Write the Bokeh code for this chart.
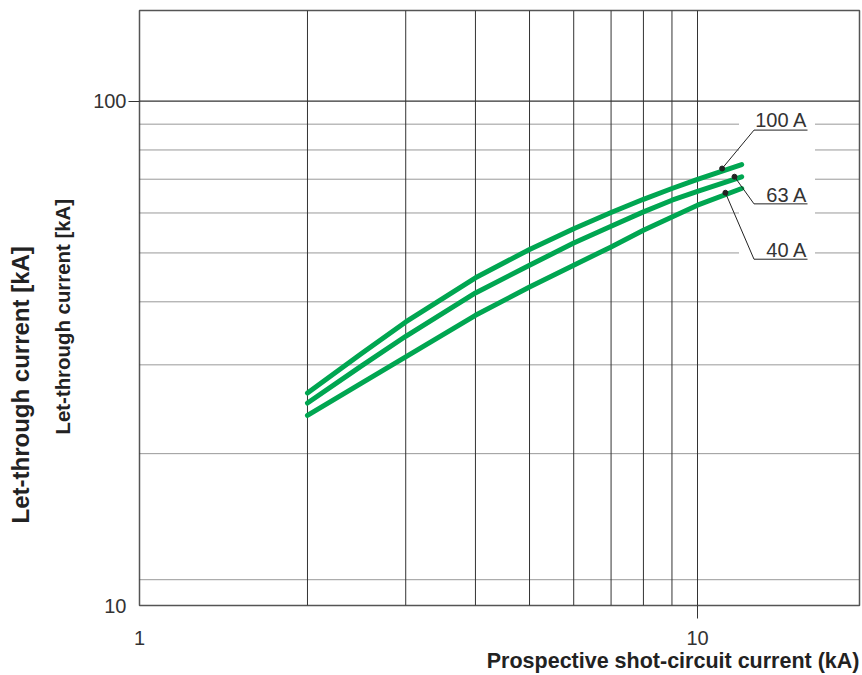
import math
from bokeh.plotting import figure
from bokeh.models import (Range1d, FixedTicker, Label, NumeralTickFormatter, LogAxis,
                          Title)
from bokeh.embed import file_html
from bokeh.resources import INLINE

# ---- data ----
x_kA = [2, 2.5, 3, 4, 5, 6, 7, 8, 9, 10, 12]
i_100A = [26.37, 31.6, 36.49, 44.63, 50.8, 55.85, 60.13, 63.87, 67.1, 69.98, 74.85]
i_63A = [25.2, 29.85, 34.18, 41.65, 47.27, 52.3, 56.49, 60.3, 63.6, 66.2, 70.77]
i_40A = [23.82, 27.6, 31.1, 37.61, 42.8, 47.27, 51.39, 55.46, 58.93, 62.17, 67.1]
series_names = ["100 A", "63 A", "40 A"]

x_grid = [2, 3, 4, 5, 6, 7, 8, 9, 10]
y_solid_grid = [100]
y_dotted_gap = [50, 60, 70, 80, 90]
y_dotted_full = [11.25, 20, 30, 40]
x_ticks = [1, 10]
y_ticks = [10, 100]
x_title = "Prospective shot-circuit current (kA)"
y_title = "Let-through current [kA]"

# marker points on curves (label anchors)
dot_x = [11.07, 11.65, 11.22]
dot_y = [73.5, 70.8, 65.8]

W, H = 862, 675
FL, FB = 139, 605  # frame left / bottom in page px

# ---- pixel <-> data helpers (page px) ----
PX0, PDX = 139.0, 558.0
PY100, PDY = 101.0, 504.0
def xd(px):
    return 10 ** ((px - PX0) / PDX)
def yd(py):
    return 10 ** (2 - (py - PY100) / PDY)

XMAX = xd(859)
YMAX = yd(10.5)

p = figure(width=W, height=H, x_axis_type="log", y_axis_type="log",
           x_range=Range1d(1, XMAX), y_range=Range1d(10, YMAX),
           output_backend="svg", toolbar_location=None,
           min_border_left=FL, min_border_right=3, min_border_top=10,
           min_border_bottom=H - FB)
p.background_fill_color = "white"
p.border_fill_color = "white"
p.outline_line_color = "#555555"
p.outline_line_width = 1.5
p.grid.visible = False

FONT = "Liberation Sans"
TXT = "#333333"

# grid lines
p.segment(x0=x_grid, y0=[10] * len(x_grid), x1=x_grid, y1=[YMAX] * len(x_grid),
          line_color="#333333", line_width=1)
p.segment(x0=[1] * len(y_solid_grid), y0=y_solid_grid, x1=[XMAX] * len(y_solid_grid),
          y1=y_solid_grid, line_color="#333333", line_width=1.2)
DOT = dict(line_color="#333333", line_width=1, line_dash="1 1")
p.segment(x0=[1] * len(y_dotted_full), y0=y_dotted_full, x1=[XMAX] * len(y_dotted_full),
          y1=y_dotted_full, **DOT)
gx1 = xd(738)
gx2 = xd(815)
p.segment(x0=[1] * len(y_dotted_gap), y0=y_dotted_gap, x1=[gx1] * len(y_dotted_gap),
          y1=y_dotted_gap, **DOT)
p.segment(x0=[gx2] * len(y_dotted_gap), y0=y_dotted_gap, x1=[XMAX] * len(y_dotted_gap),
          y1=y_dotted_gap, **DOT)

GREEN = "#00a651"
for ys in (i_100A, i_63A, i_40A):
    p.line(x_kA, ys, line_color=GREEN, line_width=5, line_cap="round", line_join="round")

# leader lines
elbow_py = [130, 203.7, 259]
text_py = [119, 194, 249.5]
for dx, dy, ey in zip(dot_x, dot_y, elbow_py):
    p.line([dx, xd(753.5), xd(807)], [dy, yd(ey), yd(ey)], line_color="#222222", line_width=1)
p.scatter(dot_x, dot_y, size=5, marker="circle", fill_color="#222222", line_color="#222222")

for name, ty in zip(series_names, text_py):
    p.add_layout(Label(x=807 - FL, y=FB - ty, x_units="screen", y_units="screen",
                       text=name, text_font=FONT, text_color=TXT, text_align="right",
                       text_baseline="middle", text_font_size="20px"))

# ---- axes: inner axes carry only the tick marks, outer axes carry the labels ----
def style_ticks_only(ax, ticks, tick_out):
    ax.ticker = FixedTicker(ticks=ticks)
    ax.formatter = NumeralTickFormatter(format="0")
    ax.major_tick_out = tick_out
    ax.major_tick_in = 0
    ax.minor_tick_line_color = None
    ax.axis_line_color = None
    ax.major_tick_line_color = "#333333"
    ax.major_tick_line_width = 1
    ax.major_label_text_font_size = "0px"
    ax.major_label_text_alpha = 0
    ax.major_label_standoff = 0

def style_labels_only(ax, ticks, standoff):
    ax.ticker = FixedTicker(ticks=ticks)
    ax.formatter = NumeralTickFormatter(format="0")
    ax.major_tick_out = 0
    ax.major_tick_in = 0
    ax.major_tick_line_color = None
    ax.minor_tick_line_color = None
    ax.axis_line_color = None
    ax.major_label_standoff = standoff
    ax.major_label_text_font = FONT
    ax.major_label_text_font_size = "20px"
    ax.major_label_text_color = TXT

style_ticks_only(p.xaxis[0], [10], 13)
style_ticks_only(p.yaxis[0], [100], 11)

xlab = LogAxis()
style_labels_only(xlab, x_ticks, 12)
p.add_layout(xlab, "below")
ylab = LogAxis()
style_labels_only(ylab, y_ticks, 2)
p.add_layout(ylab, "left")

# titles
p.add_layout(Title(text=x_title, align="right", offset=0, vertical_align="middle",
                   text_font=FONT, text_font_size="21.5px", text_font_style="bold",
                   text_color="#222222", standoff=0), "below")
p.add_layout(Title(text=y_title, align="left", offset=171, vertical_align="middle",
                   text_font=FONT, text_font_size="20.4px", text_font_style="bold",
                   text_color="#222222", standoff=32), "left")
p.add_layout(Title(text=y_title, align="left", offset=82, vertical_align="middle",
                   text_font=FONT, text_font_size="24px", text_font_style="bold",
                   text_color="#222222", standoff=0), "left")

open("out.html", "w").write(file_html(p, INLINE))
